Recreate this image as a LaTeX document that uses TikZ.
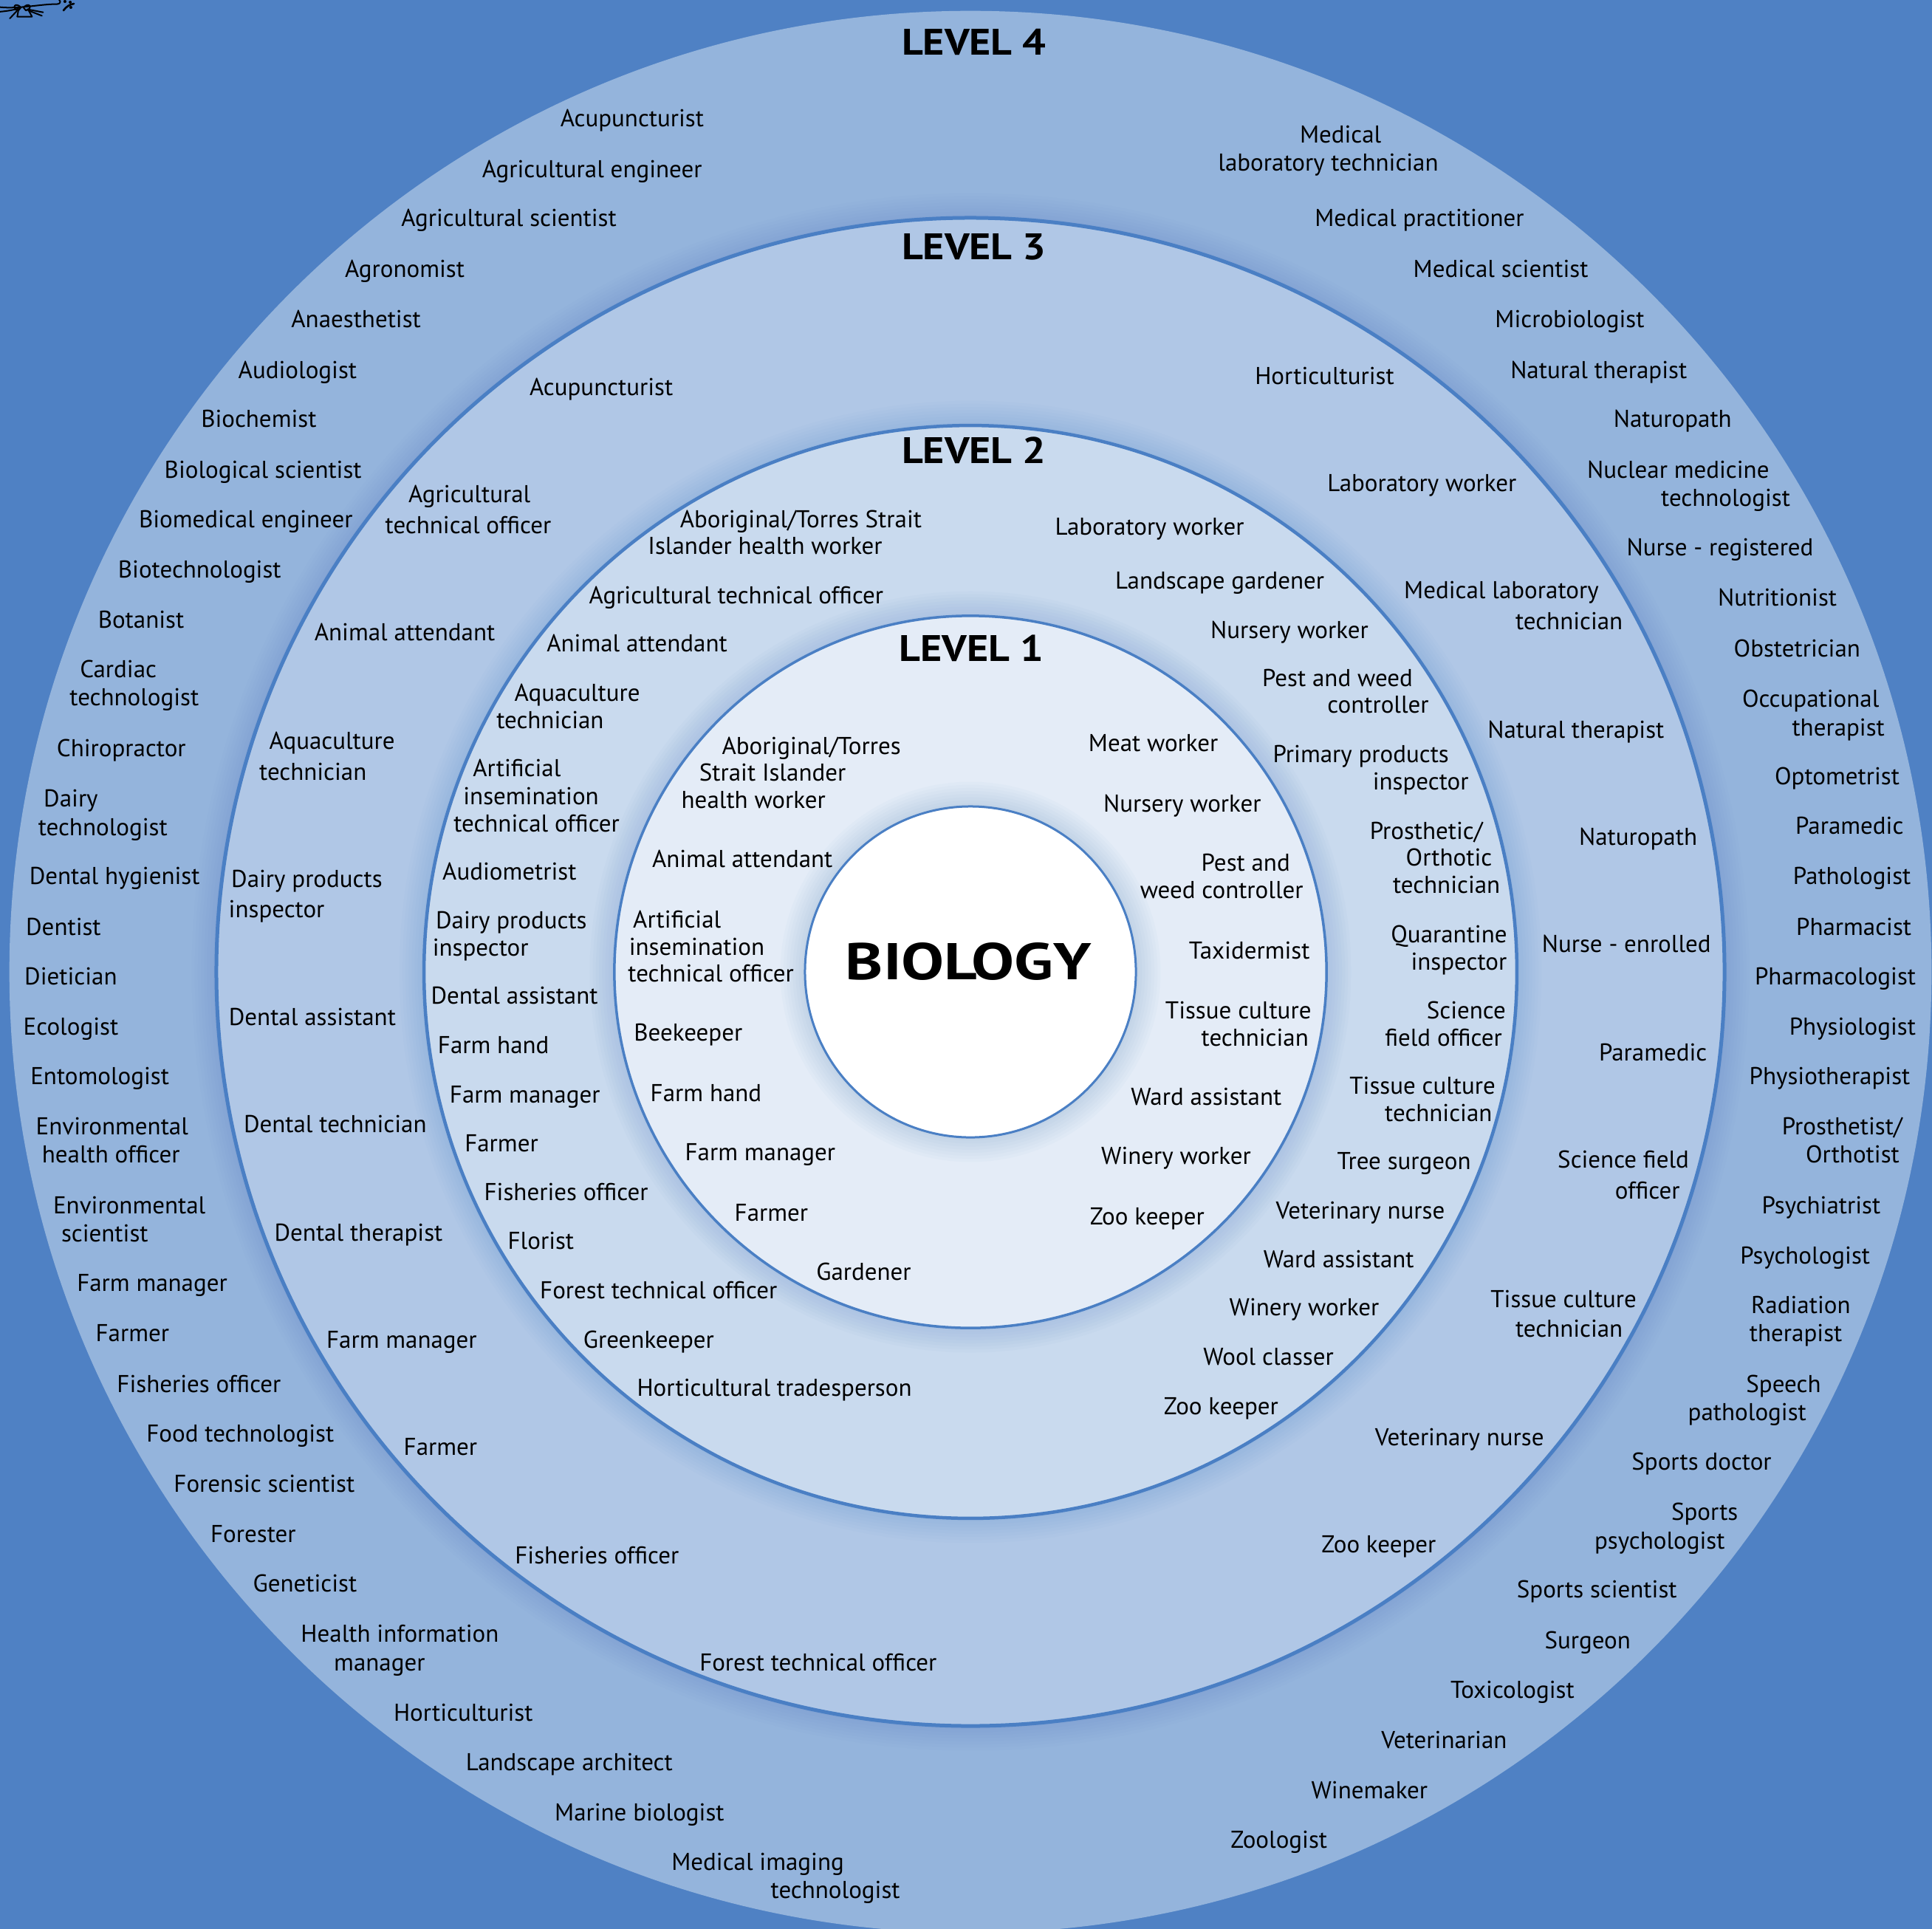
\documentclass[tikz,border=0pt]{standalone}
\usepackage{graphicx}
\usepackage{fontspec}
\setmainfont{PT Sans}
\definecolor{bgblue}{HTML}{4F81C4}
\definecolor{ringfour}{HTML}{94B4DC}
\definecolor{ringthree}{HTML}{B0C7E6}
\definecolor{ringtwo}{HTML}{C9DAEE}
\definecolor{ringone}{HTML}{E4ECF7}
\definecolor{rimblue}{HTML}{4A7FC4}
\newcounter{labc}
\newcommand\lab[3]{\stepcounter{labc}\node[lbl] (t\arabic{labc}) at (#1,#2) {#3};}
\newcommand\lev[3]{\node[levlbl] (lev#1) at (#2,#3) {\scalebox{1.12}[1]{LEVEL #1}};}
\begin{document}
\begin{tikzpicture}[x=1.6684pt,y=-1.6684pt,
  lbl/.style={font=\fontsize{33}{40}\selectfont, anchor=base, inner sep=0pt, text=black},
  levlbl/.style={font=\bfseries\fontsize{50}{52}\selectfont, anchor=base, inner sep=0pt},
  biolbl/.style={font=\bfseries\fontsize{70}{72}\selectfont, anchor=base, inner sep=0pt},
  rim/.style={draw=rimblue},
  glowstep/.style={fill=bgblue, opacity=0.026},
  deco/.style={draw=black, line width=2pt, line cap=round, line join=round}]
\useasboundingbox (0,0) rectangle (1568,1565.6);
\clip (0,0) rectangle (1568,1565.6);
\coordinate (C) at (787.6,788.8);
\fill[bgblue] (0,0) rectangle (1568,1565.6);
% decoration, top-left corner
\draw[deco] (0,5.8) .. controls (15,7.5) and (35,3) .. (46,3.4) .. controls (49,3.4) and (49.5,1) .. (48,0);
\draw[deco] (0,9.5) .. controls (6,9) and (11,8) .. (15,7);
\draw[deco] (17,6) .. controls (12,1) and (9,7) .. (15,8.5) -- cycle;
\draw[deco] (19,6) .. controls (24,1) and (27,7) .. (21,8.5) -- cycle;
\draw[deco] (15,8) -- (14,13.5) -- (26,13.5) -- (23,8);
\draw[deco] (14,8.5) -- (8,15);
\draw[deco] (23,8.5) -- (34,12.8);
\draw[deco] (22,7.5) -- (35,10);
\fill[black] (52.7,1.2) circle[radius=1.2] (57,1.8) circle[radius=1.2] (57.5,6) circle[radius=1.2];
\draw[deco, line width=2.6pt] (51.5,8.5) .. controls (54,5) and (57,3.5) .. (60,3);
% rings
\fill[ringfour] (C) circle[radius=780];
\foreach \k in {1,...,8} {\fill[glowstep] (C) circle[radius=612+\k*2.5];}
\filldraw[fill=ringthree, rim, line width=5pt] (C) circle[radius=612];
\foreach \k in {1,...,8} {\fill[glowstep] (C) circle[radius=443.5+\k*2.5];}
\filldraw[fill=ringtwo, rim, line width=4.5pt] (C) circle[radius=443.5];
\foreach \k in {1,...,8} {\fill[glowstep] (C) circle[radius=289+\k*2.5];}
\filldraw[fill=ringone, rim, line width=3.5pt] (C) circle[radius=289];
\foreach \k in {1,...,8} {\fill[glowstep] (C) circle[radius=134.3+\k*2.5];}
\filldraw[fill=white, rim, line width=3pt] (C) circle[radius=134.3];
% titles
\lev{4}{790.5}{44.4}
\lev{3}{790.5}{210.4}
\lev{2}{790.5}{376.2}
\lev{1}{788.5}{536.5}
\node[biolbl] (bio) at (786,795.2) {\scalebox{1.24}[1]{BIOLOGY}};
% Level 4 left
\lab{513}{103}{Acupuncturist}
\lab{480.5}{144}{Agricultural engineer}
\lab{413}{184}{Agricultural scientist}
\lab{328.5}{225}{Agronomist}
\lab{289}{266}{Anaesthetist}
\lab{241.5}{307}{Audiologist}
\lab{210}{347}{Biochemist}
\lab{213.5}{388}{Biological scientist}
\lab{199.5}{428}{Biomedical engineer}
\lab{162}{469}{Biotechnologist}
\lab{114.5}{510}{Botanist}
\lab{96}{550}{Cardiac}
\lab{109}{573}{technologist}
\lab{98.5}{614}{Chiropractor}
\lab{57.5}{655}{Dairy}
\lab{83.5}{678}{technologist}
\lab{93}{718}{Dental hygienist}
\lab{51.5}{759}{Dentist}
\lab{57.5}{799}{Dietician}
\lab{57.5}{840}{Ecologist}
\lab{81}{880}{Entomologist}
\lab{91}{921}{Environmental}
\lab{90}{944}{health officer}
\lab{105}{985}{Environmental}
\lab{85}{1008}{scientist}
\lab{123.5}{1048}{Farm manager}
\lab{107.5}{1089}{Farmer}
\lab{161.5}{1130}{Fisheries officer}
\lab{195}{1170}{Food technologist}
\lab{214.5}{1211}{Forensic scientist}
\lab{205.5}{1252}{Forester}
\lab{247.5}{1292}{Geneticist}
\lab{324.5}{1333}{Health information}
\lab{308}{1356}{manager}
\lab{376}{1397}{Horticulturist}
\lab{462}{1437}{Landscape architect}
\lab{519}{1478}{Marine biologist}
\lab{615}{1518}{Medical imaging}
\lab{678}{1541}{technologist}
% Level 4 right
\lab{1088}{116}{Medical}
\lab{1078}{139}{laboratory technician}
\lab{1152}{184}{Medical practitioner}
\lab{1218}{225}{Medical scientist}
\lab{1274}{266}{Microbiologist}
\lab{1297.5}{307}{Natural therapist}
\lab{1357.5}{347}{Naturopath}
\lab{1362}{388}{Nuclear medicine}
\lab{1400.5}{411}{technologist}
\lab{1396}{451}{Nurse - registered}
\lab{1442.5}{492}{Nutritionist}
\lab{1458.5}{533}{Obstetrician}
\lab{1469.5}{574}{Occupational}
\lab{1492}{597}{therapist}
\lab{1491}{637}{Optometrist}
\lab{1501}{677}{Paramedic}
\lab{1503}{718}{Pathologist}
\lab{1504.5}{759}{Pharmacist}
\lab{1489.5}{799}{Pharmacologist}
\lab{1503.5}{840}{Physiologist}
\lab{1485}{880}{Physiotherapist}
\lab{1495}{921}{Prosthetist/}
\lab{1503.5}{944}{Orthotist}
\lab{1478}{985}{Psychiatrist}
\lab{1465}{1026}{Psychologist}
\lab{1461.5}{1066}{Radiation}
\lab{1457.5}{1089}{therapist}
\lab{1447.5}{1130}{Speech}
\lab{1418}{1153}{pathologist}
\lab{1381}{1193}{Sports doctor}
\lab{1383.5}{1234}{Sports}
\lab{1347}{1257}{psychologist}
\lab{1296}{1297}{Sports scientist}
\lab{1288.5}{1338}{Surgeon}
\lab{1227.5}{1378}{Toxicologist}
\lab{1172}{1419}{Veterinarian}
\lab{1111.5}{1460}{Winemaker}
\lab{1038}{1500}{Zoologist}
% Level 3 left
\lab{488}{321}{Acupuncturist}
\lab{381}{408}{Agricultural}
\lab{380}{433}{technical officer}
\lab{328.5}{520}{Animal attendant}
\lab{269.5}{608}{Aquaculture}
\lab{254}{633}{technician}
\lab{249}{720}{Dairy products}
\lab{224.5}{745}{inspector}
\lab{253.5}{832}{Dental assistant}
\lab{272}{919}{Dental technician}
\lab{291}{1007}{Dental therapist}
\lab{326}{1094}{Farm manager}
\lab{357.5}{1181}{Farmer}
\lab{484.5}{1269}{Fisheries officer}
\lab{664}{1356}{Forest technical officer}
% Level 3 right
\lab{1075}{312}{Horticulturist}
\lab{1154}{399}{Laboratory worker}
\lab{1218.5}{486}{Medical laboratory}
\lab{1273.5}{511}{technician}
\lab{1279}{599}{Natural therapist}
\lab{1329.5}{686}{Naturopath}
\lab{1320}{773}{Nurse - enrolled}
\lab{1341.5}{861}{Paramedic}
\lab{1317.5}{948}{Science field}
\lab{1337}{973}{officer}
\lab{1269}{1061}{Tissue culture}
\lab{1273.5}{1085}{technician}
\lab{1184.5}{1173}{Veterinary nurse}
\lab{1119}{1260}{Zoo keeper}
% Level 2 left
\lab{650}{428}{Aboriginal/Torres Strait}
\lab{621}{450}{Islander health worker}
\lab{597.5}{490}{Agricultural technical officer}
\lab{517}{529}{Animal attendant}
\lab{468.5}{569}{Aquaculture}
\lab{446.5}{591}{technician}
\lab{419.5}{630}{Artificial}
\lab{431}{653}{insemination}
\lab{435.5}{675}{technical officer}
\lab{413.5}{714}{Audiometrist}
\lab{415}{754}{Dairy products}
\lab{390}{776}{inspector}
\lab{417.5}{815}{Dental assistant}
\lab{400.5}{855}{Farm hand}
\lab{426}{895}{Farm manager}
\lab{407}{935}{Farmer}
\lab{459.5}{974}{Fisheries officer}
\lab{439}{1014}{Florist}
\lab{534.5}{1054}{Forest technical officer}
\lab{526.5}{1094}{Greenkeeper}
\lab{628.5}{1133}{Horticultural tradesperson}
% Level 2 right
\lab{933}{434}{Laboratory worker}
\lab{990}{478}{Landscape gardener}
\lab{1046.5}{518}{Nursery worker}
\lab{1085.5}{557}{Pest and weed}
\lab{1118.5}{579}{controller}
\lab{1104.5}{619}{Primary products}
\lab{1153}{641}{inspector}
\lab{1157.5}{681}{Prosthetic/}
\lab{1176}{703}{Orthotic}
\lab{1174}{725}{technician}
\lab{1176}{765}{Quarantine}
\lab{1184}{787}{inspector}
\lab{1190}{827}{Science}
\lab{1171.5}{849}{field officer}
\lab{1154.5}{888}{Tissue culture}
\lab{1167.5}{910}{technician}
\lab{1139.5}{949}{Tree surgeon}
\lab{1104}{989}{Veterinary nurse}
\lab{1086.5}{1029}{Ward assistant}
\lab{1058.5}{1068}{Winery worker}
\lab{1029.5}{1108}{Wool classer}
\lab{991}{1148}{Zoo keeper}
% Level 1 left
\lab{658.5}{612}{Aboriginal/Torres}
\lab{627}{634}{Strait Islander}
\lab{611.5}{656}{health worker}
\lab{602.5}{704}{Animal attendant}
\lab{549.5}{753}{Artificial}
\lab{565.5}{775}{insemination}
\lab{577}{797}{technical officer}
\lab{558.5}{845}{Beekeeper}
\lab{573}{894}{Farm hand}
\lab{617}{942}{Farm manager}
\lab{626}{991}{Farmer}
\lab{701}{1039}{Gardener}
% Level 1 right
\lab{936}{610}{Meat worker}
\lab{959.5}{659}{Nursery worker}
\lab{1011}{707}{Pest and}
\lab{991.5}{729}{weed controller}
\lab{1014}{778}{Taxidermist}
\lab{1005}{827}{Tissue culture}
\lab{1018.5}{849}{technician}
\lab{979}{897}{Ward assistant}
\lab{954.5}{945}{Winery worker}
\lab{931}{994}{Zoo keeper}
\end{tikzpicture}
\end{document}
